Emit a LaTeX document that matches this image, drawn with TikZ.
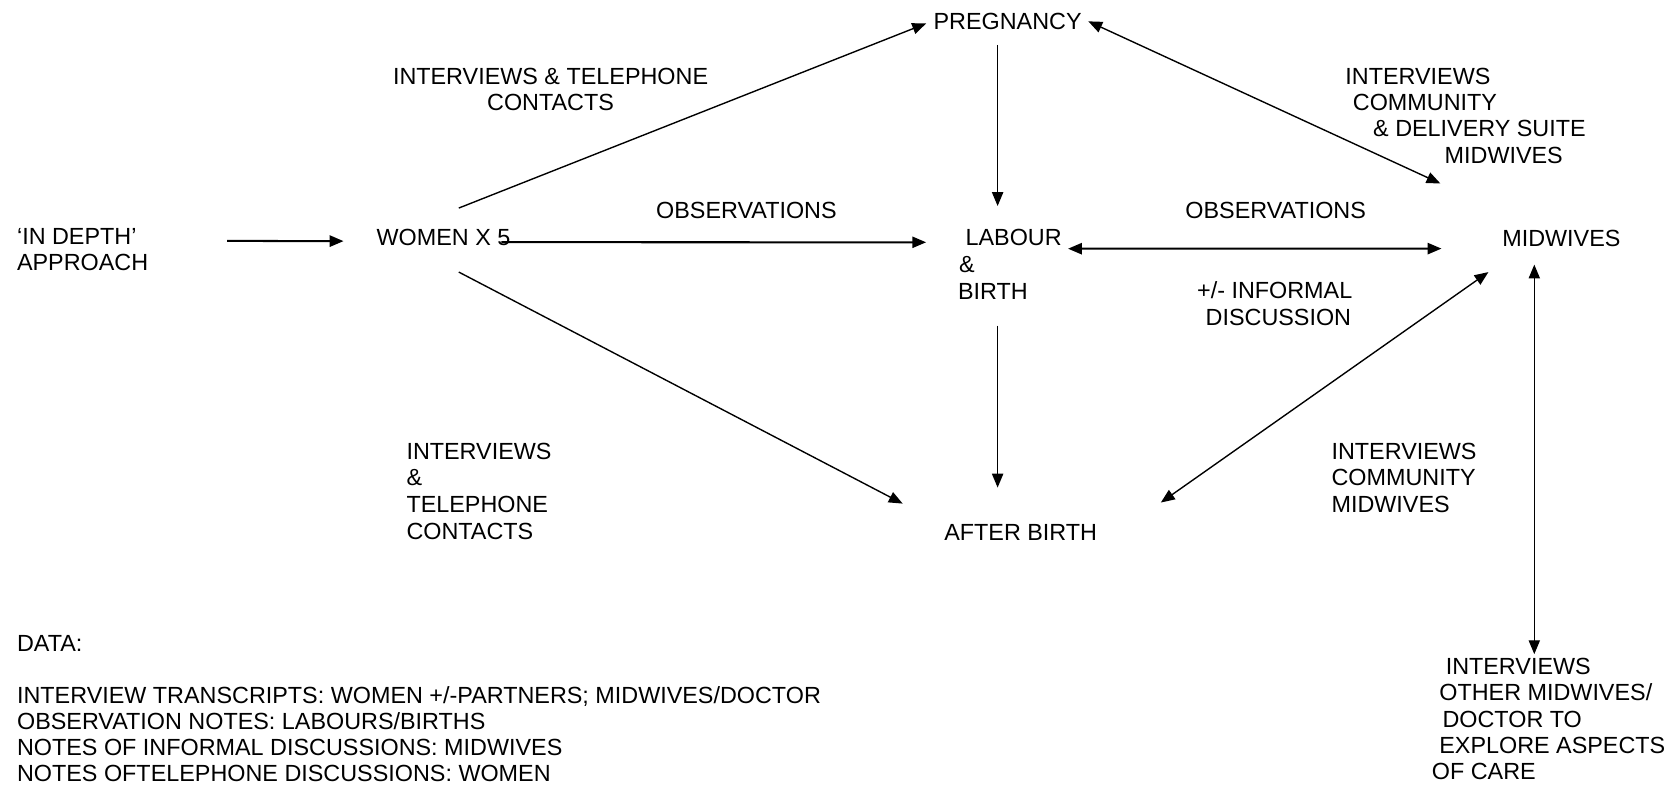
\documentclass[tikz,border=0pt]{standalone}
\usepackage{fontspec}
\setmainfont{Liberation Sans}
\usetikzlibrary{arrows.meta,calc}
\begin{document}
\begin{tikzpicture}[x=1pt,y=-1pt,
  txt/.style={inner sep=0pt,outer sep=0pt,align=left,font=\fontsize{21.9}{24.5}\selectfont},
  txtw/.style={txt,font=\fontsize{21.9}{25}\selectfont},
  tip/.tip={Triangle[length=13pt,width=10.5pt]},
  conn/.style={line width=1.3pt,-tip},
  both/.style={line width=1.3pt,tip-tip},
  heavy/.style={line width=1.9pt}]
\fill[white] (0,0) rectangle (1568,738);
\useasboundingbox (0,0) rectangle (1568,738);

% main nodes
\node[txt,anchor=north west] (indepth) at (16,214.3) {‘IN DEPTH’\\APPROACH};
\node[txt,anchor=base west] (women) at (353,230) {WOMEN X 5};
\node[txt,anchor=base west] (preg) at (875,28) {PREGNANCY};
\node[txtw,anchor=north west] (labour) at (898,215.1) {\hspace*{7pt}LABOUR\\\hspace*{1pt}\&\\BIRTH};
\node[txt,anchor=base west] (after) at (885,507) {AFTER BIRTH};
\node[txt,anchor=base west] (midw) at (1408,231) {MIDWIVES};
\node[txt,anchor=north west] (other) at (1342,617.1) {\hspace*{13pt}INTERVIEWS\\\hspace*{7pt}OTHER MIDWIVES/\\\hspace*{10pt}DOCTOR TO\\\hspace*{7pt}EXPLORE ASPECTS\\OF CARE};

% labels
\node[txt,anchor=north,align=center] (lab1) at (516,64.1) {INTERVIEWS \& TELEPHONE\\CONTACTS};
\node[txt,anchor=base west] (obs1) at (615,205) {OBSERVATIONS};
\node[txtw,anchor=north west] (lab2) at (381,415.1) {INTERVIEWS\\\&\\TELEPHONE\\CONTACTS};
\node[txt,anchor=north west] (lab3) at (1261,64.1) {INTERVIEWS\\\hspace*{7pt}COMMUNITY\\\hspace*{26pt}\& DELIVERY SUITE\\\hspace*{93pt}MIDWIVES};
\node[txt,anchor=base west] (obs2) at (1111,205) {OBSERVATIONS};
\node[txtw,anchor=north west] (lab4) at (1122,264.1) {+/- INFORMAL\\\hspace*{8pt}DISCUSSION};
\node[txtw,anchor=north west] (lab5) at (1248,415.1) {INTERVIEWS\\COMMUNITY\\MIDWIVES};

% data block
\node[txt,anchor=base west] (data) at (16,611) {DATA:};
\node[txt,anchor=north west] (datalines) at (16,643.1) {INTERVIEW TRANSCRIPTS: WOMEN +/-PARTNERS; MIDWIVES/DOCTOR\\OBSERVATION NOTES: LABOURS/BIRTHS\\NOTES OF INFORMAL DISCUSSIONS: MIDWIVES\\NOTES OFTELEPHONE DISCUSSIONS: WOMEN};

% connectors
\draw[conn,heavy] ($(indepth.north east)+(74,11.5)$) -- ($(women.base west)+(-31,-4)$);
\draw[conn,heavy] ($(women.base west)+(117,-3)$) -- ($(labour.north west)+(-30,12)$);
\draw[conn] ($(women.base west)+(77,-35)$) -- ($(preg.base west)+(-7,-6)$);
\draw[conn] ($(women.base west)+(77,25)$) -- ($(after.base west)+(-39,-35)$);
\draw[conn] ($(preg.base west)+(60,14)$) -- ($(labour.north west)+(37,-22)$);
\draw[conn] ($(labour.north west)+(37,90)$) -- ($(after.base west)+(50,-50)$);
\draw[both] ($(preg.base west)+(145,-8)$) -- ($(midw.base west)+(-58,-59)$);
\draw[both,heavy] ($(labour.north west)+(103,18)$) -- ($(midw.base west)+(-57,2)$);
\draw[both] ($(after.base west)+(203,-36)$) -- ($(midw.base west)+(-13,24)$);
\draw[both] ($(midw.base west)+(30,17)$) -- ($(other.north west)+(96,-4)$);
\end{tikzpicture}
\end{document}
